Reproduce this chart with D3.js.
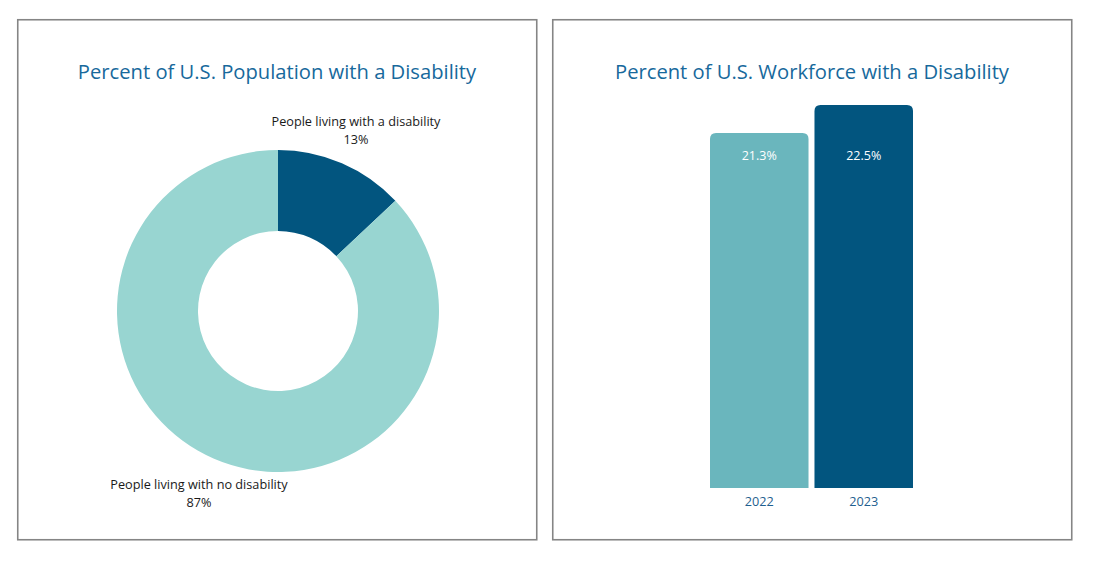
<!DOCTYPE html>
<html><head><meta charset="utf-8">
<script src="https://cdn.jsdelivr.net/npm/d3@7"></script>
<style>html,body{margin:0;padding:0;background:#fff;}svg{display:block;font-family:"Open Sans",sans-serif;}</style>
</head><body>
<svg id="c" width="1093" height="561"></svg>
<script>
const donutTitle = "Percent of U.S. Population with a Disability";
const donutLabels = ["People living with a disability", "People living with no disability"];
const donutValues = [13, 87];
const donutColors = ["#02557f", "#98d5d1"];

const barTitle = "Percent of U.S. Workforce with a Disability";
const barYears = ["2022", "2023"];
const barValues = [21.3, 22.5];
const barColors = ["#6ab6bd", "#02557f"];

const svg = d3.select("#c");
const titleColor = "#17699c";

// panels
const panels = [{x:17,y:19,w:519,h:520},{x:552,y:19,w:519,h:520}];
svg.selectAll("rect.panel").data(panels).join("rect").attr("class","panel")
  .attr("x",d=>d.x+0.75).attr("y",d=>d.y+0.75).attr("width",d=>d.w).attr("height",d=>d.h)
  .attr("fill","#fff").attr("stroke","#858585").attr("stroke-width",1.6);

// titles
svg.append("text").attr("x",277).attr("y",79).attr("text-anchor","middle")
  .attr("font-size",20.2).attr("fill",titleColor).text(donutTitle);
svg.append("text").attr("x",812).attr("y",79).attr("text-anchor","middle")
  .attr("font-size",20.2).attr("fill",titleColor).text(barTitle);

// donut
const cx = 278, cy = 311, rOuter = 161, rInner = 80;
const pie = d3.pie().sort(null).value(d=>d)(donutValues);
const arc = d3.arc().innerRadius(rInner).outerRadius(rOuter);
const g = svg.append("g").attr("transform",`translate(${cx},${cy})`);
g.selectAll("path").data(pie).join("path").attr("d",arc)
  .attr("fill",(d,i)=>donutColors[i]);

const donutLabelPos = [{x:356,y:126},{x:199,y:489}];
donutLabels.forEach((lab,i)=>{
  const t = svg.append("text").attr("text-anchor","middle").attr("font-size",12.7).attr("fill","#1a1a1a");
  t.append("tspan").attr("x",donutLabelPos[i].x).attr("y",donutLabelPos[i].y).text(lab);
  t.append("tspan").attr("x",donutLabelPos[i].x).attr("y",donutLabelPos[i].y+18).text(donutValues[i]+"%");
});

// bars
const x = d3.scaleBand().domain(barYears).range([710,913]).paddingInner(0.057).paddingOuter(0);
const y = d3.scaleLinear().domain([6.09,22.5]).range([488,105]);
const rr = 6;
function topRounded(x0,y0,w,h,r){
  return `M${x0},${y0+h}V${y0+r}Q${x0},${y0} ${x0+r},${y0}H${x0+w-r}Q${x0+w},${y0} ${x0+w},${y0+r}V${y0+h}Z`;
}
const bg = svg.append("g");
barValues.forEach((v,i)=>{
  const x0 = x(barYears[i]), w = x.bandwidth(), y0 = y(v), h = y(6.09)-y(v);
  bg.append("path").attr("d",topRounded(x0,y0,w,h,rr)).attr("fill",barColors[i]);
  bg.append("text").attr("x",x0+w/2).attr("y",y(21.3)+27).attr("text-anchor","middle")
    .attr("font-size",12.5).attr("fill","#fff").text(v.toFixed(1)+"%");
  bg.append("text").attr("x",x0+w/2).attr("y",506).attr("text-anchor","middle")
    .attr("font-size",12.7).attr("fill","#1f5f8f").text(barYears[i]);
});
</script>
</body></html>
